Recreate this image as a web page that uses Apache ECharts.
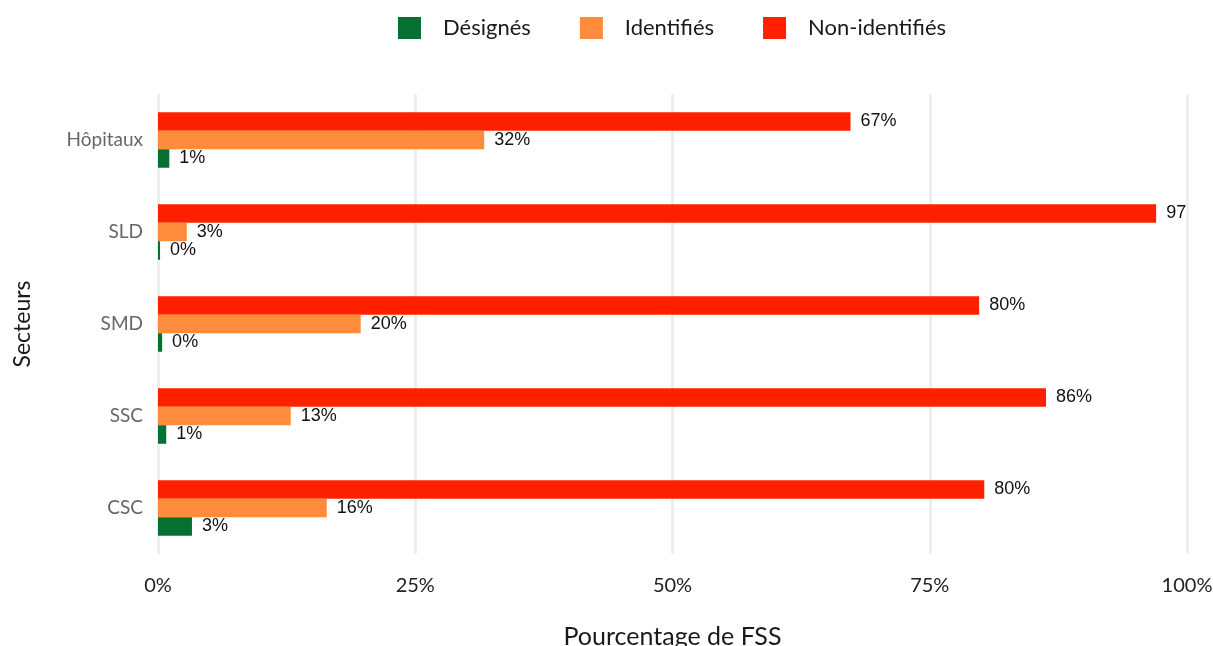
<!DOCTYPE html>
<html>
<head>
<meta charset="utf-8">
<script src="https://cdn.jsdelivr.net/npm/echarts@6/dist/echarts.min.js"></script>
<style>
  html, body { margin: 0; padding: 0; background: #ffffff; }
  #chart { width: 1213px; height: 646px; }
</style>
</head>
<body>
<div id="chart"></div>
<script>
// Sectors, listed bottom to top on the category axis
const secteurs = ['CSC', 'SSC', 'SMD', 'SLD', 'Hôpitaux'];

// Share of FSS per sector (%), same order as secteurs
const designes = [3.3, 0.8, 0.4, 0.2, 1.1];
const identifies = [16.4, 12.9, 19.7, 2.8, 31.7];
const nonIdentifies = [80.3, 86.3, 79.8, 97.0, 67.3];

// Horizontal axis ticks
const xTicks = [0, 25, 50, 75, 100];

const seriesNames = ['Désignés', 'Identifiés', 'Non-identifiés'];
const colors = {
  'Désignés': '#05702F',
  'Identifiés': '#FF8C3D',
  'Non-identifiés': '#FF2000'
};

const labelFont = {
  show: true,
  position: 'right',
  distance: 10,
  fontFamily: '"Liberation Sans", Arial, sans-serif',
  fontSize: 18,
  color: '#111111',
  formatter: p => Math.round(p.value) + '%'
};

function barSeries(name, values) {
  return {
    name: name,
    type: 'bar',
    barWidth: 18.5,
    barGap: '0%',
    itemStyle: { color: colors[name] },
    label: labelFont,
    // labels running past the 100% line are cut at the panel edge
    data: values.map(v => {
      const room = (100 - v) * 10.29 - labelFont.distance;
      if (room < 38) {
        return {
          value: v,
          label: { width: room + 6, overflow: 'truncate', ellipsis: '' }
        };
      }
      return v;
    })
  };
}

const chart = echarts.init(document.getElementById('chart'));
chart.setOption({
  backgroundColor: '#ffffff',
  animation: false,
  legend: {
    data: seriesNames,
    top: 17,
    left: 398,
    padding: 0,
    icon: 'rect',
    itemWidth: 23,
    itemHeight: 22,
    itemGap: 49,
    textStyle: {
      fontFamily: 'Lato, "Noto Sans", sans-serif',
      fontSize: 22,
      color: '#1a1a1a',
      padding: [0, 0, 0, 17]
    }
  },
  grid: {
    left: 158,
    right: 26,
    top: 94,
    height: 460,
    containLabel: false,
    outerBoundsMode: 'none'
  },
  xAxis: {
    type: 'value',
    min: xTicks[0],
    max: xTicks[xTicks.length - 1],
    interval: 25,
    name: 'Pourcentage de FSS',
    nameLocation: 'middle',
    nameGap: 70,
    nameTextStyle: {
      fontFamily: 'Lato, "Noto Sans", sans-serif',
      fontSize: 25,
      color: '#1a1a1a'
    },
    axisLine: { show: false },
    axisTick: { show: false },
    axisLabel: {
      margin: 22,
      fontFamily: 'Lato, "Noto Sans", sans-serif',
      fontSize: 20,
      color: '#222222',
      formatter: v => (xTicks.includes(v) ? v + '%' : '')
    },
    splitLine: {
      show: true,
      lineStyle: { color: '#EBEBEB', width: 2.5 }
    }
  },
  yAxis: {
    type: 'category',
    data: secteurs,
    name: 'Secteurs',
    nameLocation: 'middle',
    nameGap: 124,
    nameRotate: 90,
    nameTextStyle: {
      fontFamily: 'Lato, "Noto Sans", sans-serif',
      fontSize: 23,
      color: '#1a1a1a'
    },
    axisLine: { show: false },
    axisTick: { show: false },
    splitLine: { show: false },
    axisLabel: {
      margin: 15,
      fontFamily: 'Lato, "Noto Sans", sans-serif',
      fontSize: 19,
      color: '#666666'
    }
  },
  series: [
    barSeries('Non-identifiés', nonIdentifies),
    barSeries('Identifiés', identifies),
    barSeries('Désignés', designes)
  ]
});
</script>
</body>
</html>
